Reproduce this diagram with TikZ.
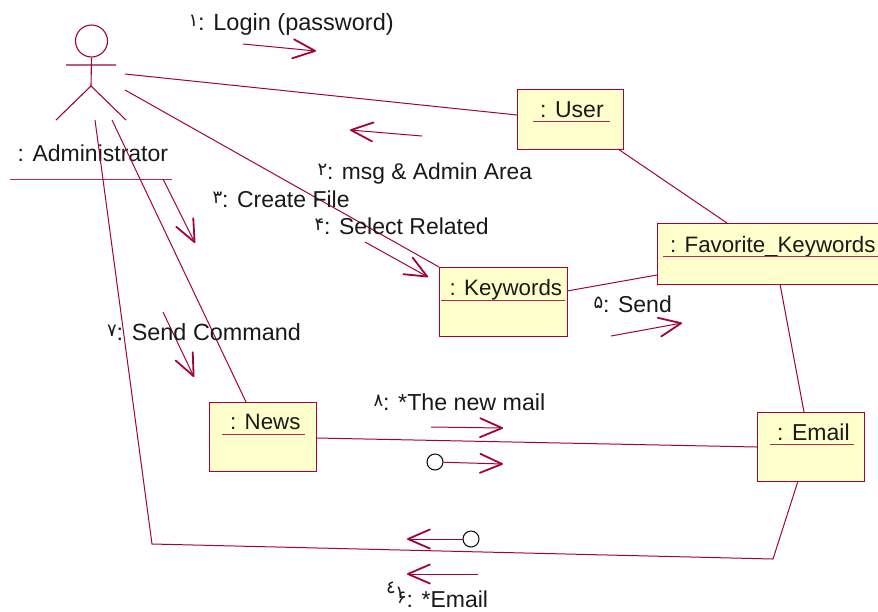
\documentclass[tikz,border=0pt]{standalone}
\usepackage{fontspec}
\setmainfont{Liberation Sans}
\newfontfamily\digitfont{DejaVu Sans}
\usetikzlibrary{arrows.meta}
\definecolor{umlline}{HTML}{A3023F}
\definecolor{umlfill}{HTML}{FFFFCB}
\newcommand{\dsize}{\digitfont\fontsize{18}{18}\selectfont}
\newcommand{\dg}[1]{\llap{\raisebox{3.5pt}{\dsize #1}}}
\tikzset{
  umlbox/.style={draw=umlline,fill=umlfill,line width=1pt,rectangle,inner sep=0pt,anchor=north west},
  conn/.style={draw=umlline,line width=1pt},
  under/.style={draw=umlline!85,line width=1pt},
  txt/.style={anchor=base west,inner sep=0pt,font=\fontsize{23}{25}\selectfont,text=black!90},
  boxtxt/.style={txt,font=\fontsize{22.3}{25}\selectfont},
  msg/.style={draw=umlline,line width=1pt,-{Straight Barb[length=22pt,width=19pt,line width=1.8pt,round]}},
  ball/.style={circle,draw=black,fill=white,line width=1pt,minimum size=16pt,inner sep=0pt},
  limb/.style={draw=umlline,line width=1.1pt}
}
\begin{document}
\begin{tikzpicture}[x=1pt,y=-1pt]
\path[use as bounding box,fill=white] (0,0) rectangle (878,611);
% boxes
\node[umlbox,minimum width=106pt,minimum height=60pt] (user) at (517,89) {};
\node[umlbox,minimum width=225pt,minimum height=61pt] (fav) at (657,223) {};
\node[umlbox,minimum width=128pt,minimum height=69pt] (kw) at (439,267) {};
\node[umlbox,minimum width=107pt,minimum height=69pt] (news) at (209,402) {};
\node[umlbox,minimum width=107pt,minimum height=69pt] (email) at (757,412) {};
% box labels
\node[txt] (tuser) at (540,117) {: User};
\node[boxtxt] (tfav) at (670,252) {: Favorite\_Keywords};
\node[boxtxt] (tkw) at (449.5,295) {: Keywords};
\node[boxtxt] (tnews) at (230,429) {: News};
\node[txt] (temail) at (777,440) {: Email};
\draw[under] (533,121) -- (610,121);
\draw[under] (663,256) -- (878,256);
\draw[under] (441,300) -- (565,300);
\draw[under] (222,434) -- (305,434);
\draw[under] (770,444) -- (854,444);
% actor
\node[circle,draw=umlline,line width=1.1pt,minimum size=32pt,inner sep=0pt] (head) at (91.5,41) {};
\coordinate (hip) at (91,86);
\coordinate (armL) at (66,65);
\coordinate (armR) at (116,65);
\coordinate (legL) at (56,120);
\coordinate (legR) at (126,120);
\draw[limb] (head.south) -- (hip) (armL) -- (armR) (legL) -- (hip) -- (legR);
\node[txt] (tadmin) at (17.5,161) {: Administrator};
\draw[under] (10,179) -- (172,179);
% connector ends
\coordinate (a1) at (125,74);
\coordinate (a2) at (125,90);
\coordinate (a3) at (112,120);
\coordinate (a4) at (95,120);
\coordinate (u1) at (517,115);
\coordinate (u2) at (618,149);
\coordinate (f1) at (727,223);
\coordinate (f2) at (657,275);
\coordinate (f3) at (780,284);
\coordinate (k1) at (567,291);
\coordinate (n1) at (246,402);
\coordinate (n2) at (316,438);
\coordinate (e1) at (757,447);
\coordinate (e2) at (804,412);
\coordinate (e3) at (798,481);
\coordinate (b1) at (152,544);
\coordinate (b2) at (773,559);
\draw[conn] (a1) -- (u1);
\draw[conn] (a2) -- (kw.north west);
\draw[conn] (a3) -- (n1);
\draw[conn] (a4) -- (b1) -- (b2) -- (e3);
\draw[conn] (u2) -- (f1);
\draw[conn] (k1) -- (f2);
\draw[conn] (f3) -- (e2);
\draw[conn] (n2) -- (e1);
% messages
\coordinate (m1a) at (243,44); \coordinate (m1b) at (316,51);
\coordinate (m2a) at (422,136); \coordinate (m2b) at (350,130);
\coordinate (m3a) at (163,179); \coordinate (m3b) at (195,243);
\coordinate (m4a) at (365,242); \coordinate (m4b) at (428,277);
\coordinate (m5a) at (611,336); \coordinate (m5b) at (682,323);
\coordinate (m7a) at (163,312); \coordinate (m7b) at (194,377);
\coordinate (m8a) at (431,427); \coordinate (m8b) at (503,428);
\coordinate (m9b) at (503,464);
\coordinate (m10b) at (407,539);
\coordinate (m6a) at (478,574); \coordinate (m6b) at (407,574);
\draw[msg] (m1a) -- (m1b);
\draw[msg] (m2a) -- (m2b);
\draw[msg] (m3a) -- (m3b);
\draw[msg] (m4a) -- (m4b);
\draw[msg] (m5a) -- (m5b);
\draw[msg] (m7a) -- (m7b);
\draw[msg] (m8a) -- (m8b);
\node[ball] (c1) at (435,462) {};
\draw[msg] (c1) -- (m9b);
\node[ball] (c2) at (471,539) {};
\draw[msg] (c2) -- (m10b);
\draw[msg] (m6a) -- (m6b);
% message labels
\node[txt,font=\fontsize{23.5}{25}\selectfont] (l1) at (198,30) {\dg{۱}: Login (password)};
\node[txt,font=\fontsize{22.8}{25}\selectfont] (l2) at (327,179) {\dg{۲}: msg \& Admin Area};
\node[txt] (l3) at (222,207) {\dg{۳}: Create File};
\node[txt] (l4) at (324,234) {\dg{۴}: Select Related};
\node[txt] (l5) at (603,312) {\dg{۵}: Send};
\node[txt,font=\fontsize{23.4}{25}\selectfont] (l7) at (116.5,340) {\dg{۷}: Send Command};
\node[txt,font=\fontsize{23.2}{25}\selectfont] (l8) at (383,410) {\dg{۸}: *The new mail};
\node[txt] (l6) at (406.5,607) {\llap{\raisebox{14pt}{\dsize ٤}\kern11pt}\llap{\raisebox{9pt}{\dsize ۱}\kern2pt}\llap{\raisebox{4pt}{\dsize ۶}}: *Email};
\end{tikzpicture}
\end{document}
